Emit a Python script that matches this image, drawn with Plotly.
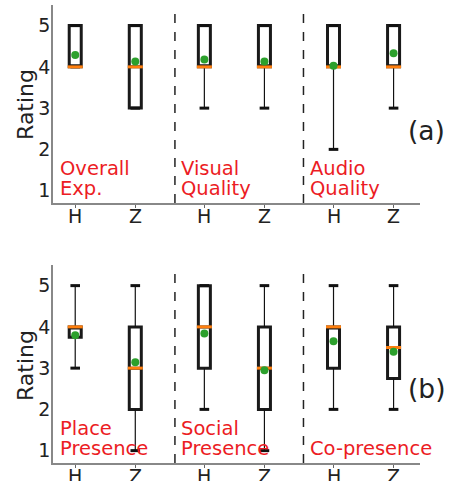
import plotly.graph_objects as go

# ---- data ----
tick_labels = ["H", "Z", "H", "Z", "H", "Z"]
positions = [0, 1, 2.15, 3.15, 4.3, 5.3]
dividers = [1.66, 3.8]

groups_a = [["Overall", "Exp."], ["Visual", "Quality"], ["Audio", "Quality"]]
groups_b = [["Place", "Presence"], ["Social", "Presence"], ["Co-presence"]]

a_q1 = [4, 3, 4, 4, 4, 4]
a_med = [4, 4, 4, 4, 4, 4]
a_q3 = [5, 5, 5, 5, 5, 5]
a_lo = [4, 3, 3, 3, 2, 3]
a_hi = [5, 5, 5, 5, 5, 5]
a_mean = [4.29, 4.13, 4.18, 4.13, 4.03, 4.33]

b_q1 = [3.75, 2, 3, 2, 3, 2.75]
b_med = [4, 3, 4, 3, 4, 3.5]
b_q3 = [4, 4, 5, 4, 4, 4]
b_lo = [3, 1, 2, 1, 2, 2]
b_hi = [5, 5, 5, 5, 5, 5]
b_mean = [3.8, 3.14, 3.84, 2.95, 3.65, 3.4]

star_x = [0.5, 2.57]
star_y = [5.6, 5.6]

FONT = "DejaVu Sans"
RED = "#ec1c24"
BOX_W = 0.2
CAP_HALF = 0.08
MED_HALF = 0.125

fig = go.Figure()


def add_panel(q1, med, q3, lo, hi, mean, xa, ya):
    wx, wy, cx, cy, mx, my = [], [], [], [], [], []
    for p, a, b, l, h, m in zip(positions, q1, q3, lo, hi, med):
        wx += [p, p, None, p, p, None]
        wy += [l, a, None, b, h, None]
        cx += [p - CAP_HALF, p + CAP_HALF, None, p - CAP_HALF, p + CAP_HALF, None]
        cy += [l, l, None, h, h, None]
        mx += [p - MED_HALF, p + MED_HALF, None]
        my += [m, m, None]
    fig.add_trace(go.Scatter(x=wx, y=wy, mode="lines", xaxis=xa, yaxis=ya,
                             line=dict(color="#111", width=1.2), showlegend=False,
                             hoverinfo="skip"))
    fig.add_trace(go.Scatter(x=cx, y=cy, mode="lines", xaxis=xa, yaxis=ya,
                             line=dict(color="#111", width=3), showlegend=False,
                             hoverinfo="skip"))
    fig.add_trace(go.Box(x=positions, q1=q1, median=med, q3=q3,
                         lowerfence=q1, upperfence=q3, width=BOX_W,
                         line=dict(color="#1a1a1a", width=3),
                         fillcolor="rgba(0,0,0,0)", boxpoints=False,
                         xaxis=xa, yaxis=ya, showlegend=False))
    fig.add_trace(go.Scatter(x=mx, y=my, mode="lines", xaxis=xa, yaxis=ya,
                             line=dict(color="#ff7f0e", width=3), showlegend=False,
                             hoverinfo="skip"))
    fig.add_trace(go.Scatter(x=positions, y=mean, mode="markers", xaxis=xa, yaxis=ya,
                             marker=dict(color="#2ca02c", size=8), showlegend=False))


add_panel(a_q1, a_med, a_q3, a_lo, a_hi, a_mean, "x", "y")
add_panel(b_q1, b_med, b_q3, b_lo, b_hi, b_mean, "x2", "y2")

fig.add_trace(go.Scatter(x=star_x, y=star_y, mode="markers", xaxis="x2", yaxis="y2",
                         marker=dict(symbol="star", color=RED, size=15),
                         cliponaxis=False, showlegend=False))

axis_common = dict(showline=True, linecolor="#888", linewidth=1.5, showgrid=False,
                   zeroline=False, automargin=False,
                   tickfont=dict(family=FONT, size=19, color="#222"))
xcommon = dict(axis_common, range=[-0.37, 5.74], tickvals=positions,
               showticklabels=False, ticks="outside", ticklen=3, tickcolor="#666")
ycommon = dict(axis_common, range=[0.7, 5.5], tickvals=[1, 2, 3, 4, 5], ticks="",
               ticklabelstandoff=-3)

fig.update_layout(
    template="none",
    width=451, height=481,
    margin=dict(l=53, r=31, t=5, b=18),
    plot_bgcolor="white", paper_bgcolor="white",
    xaxis=dict(xcommon, anchor="y", domain=[0, 1]),
    yaxis=dict(ycommon, anchor="x", domain=[0.5677, 1]),
    xaxis2=dict(xcommon, anchor="y2", domain=[0, 1]),
    yaxis2=dict(ycommon, anchor="x2", domain=[0, 0.4323]),
    showlegend=False,
)

shapes = []
for xr, yr in [("x", "y domain"), ("x2", "y2 domain")]:
    for d in dividers:
        shapes.append(dict(type="line", xref=xr, yref=yr, x0=d, x1=d, y0=0, y1=1,
                           line=dict(color="#222", width=1.5, dash="dash")))
fig.update_layout(shapes=shapes)

ann = []
# x tick labels (placed close to the axis line)
for xr, yr in [("x", "y domain"), ("x2", "y2 domain")]:
    for p, t in zip(positions, tick_labels):
        ann.append(dict(text=t, x=p, y=0, xref=xr, yref=yr, xanchor="center",
                        yanchor="top", yshift=0, showarrow=False,
                        font=dict(family=FONT, size=19, color="#222")))

label_x = [-0.29, 1.73, 3.87]
for xr, yr, groups in [("x", "y", groups_a), ("x2", "y2", groups_b)]:
    for gx, lines in zip(label_x, groups):
        ys = [1.53, 1.04] if len(lines) == 2 else [1.04]
        for txt, yy in zip(lines, ys):
            ann.append(dict(text=txt, x=gx, y=yy, xref=xr, yref=yr, xanchor="left",
                            yanchor="middle", showarrow=False,
                            font=dict(family=FONT, size=19.5, color=RED)))

for yy in [0.784, 0.214]:
    ann.append(dict(text="Rating", x=-0.0736, y=yy, xref="paper", yref="paper",
                    xanchor="center", yanchor="middle", textangle=-90, showarrow=False,
                    font=dict(family=FONT, size=22, color="#222")))
for txt, yy in [("(a)", 0.727), ("(b)", 0.1616)]:
    ann.append(dict(text=txt, x=1.019, y=yy, xref="paper", yref="paper",
                    xanchor="center", yanchor="middle", showarrow=False,
                    font=dict(family=FONT, size=26.5, color="#222")))
fig.update_layout(annotations=ann)

fig.write_html("out.html", config={"displayModeBar": False},
               post_script="document.body.style.margin='0';")
